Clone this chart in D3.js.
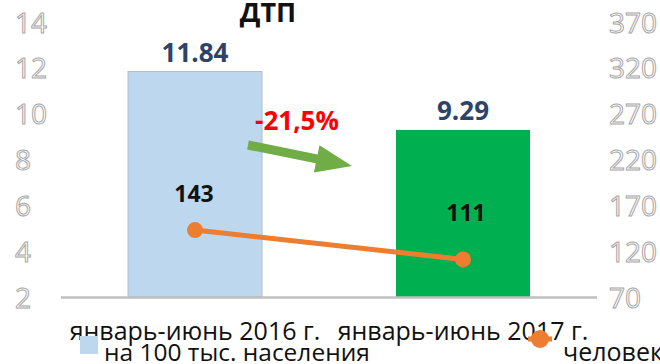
<!DOCTYPE html>
<html>
<head>
<meta charset="utf-8">
<script src="https://cdn.jsdelivr.net/npm/d3@7"></script>
<style>
  html, body { margin: 0; padding: 0; background: #fff; }
  svg { display: block; font-family: "Open Sans", "Noto Sans", sans-serif; }
</style>
</head>
<body>
<svg id="chart" width="660" height="364"></svg>
<script>
// Road accidents (ДТП), January–June, two years
const categories = ["январь-июнь 2016 г.", "январь-июнь 2017 г."];
const per100k = [11.84, 9.29];          // bars, left axis
const people = [143, 111];              // line, right axis
const barColors = ["#BDD7EE", "#00B050"];
const leftTicks = [2, 4, 6, 8, 10, 12, 14];
const rightTicks = [70, 120, 170, 220, 270, 320, 370];
const seriesNames = ["на 100 тыс. населения", "человек"];
const title = "ДТП";
const changeLabel = "-21,5%";

const svg = d3.select("#chart");
const plot = { left: 61, right: 597, top: 22, bottom: 297 };

const x = d3.scaleBand()
  .domain(categories)
  .range([plot.left, plot.right])
  .paddingInner(0.5)
  .paddingOuter(0.25);

const yL = d3.scaleLinear().domain([2, 14]).range([plot.bottom, plot.top]);
const yR = d3.scaleLinear().domain([70, 370]).range([plot.bottom, plot.top]);

// Axis tick labels (outlined digits, no axis lines)
const axisText = g => g.selectAll("text")
  .attr("fill", "#fff")
  .attr("stroke", "#A6A6A6")
  .attr("stroke-width", 1)
  .attr("font-size", 28)
  .attr("font-family", "'Open Sans', sans-serif");

const leftAxis = svg.append("g")
  .attr("transform", "translate(15,0)")
  .call(d3.axisLeft(yL).tickValues(leftTicks).tickSize(0).tickPadding(0));
leftAxis.select(".domain").remove();
leftAxis.selectAll("text").attr("text-anchor", "start").attr("dy", "0.36em");
leftAxis.call(axisText);

const rightAxis = svg.append("g")
  .attr("transform", "translate(609,0)")
  .call(d3.axisRight(yR).tickValues(rightTicks).tickSize(0).tickPadding(0));
rightAxis.select(".domain").remove();
rightAxis.selectAll("text").attr("dy", "0.36em");
rightAxis.call(axisText);

// Bars
svg.append("g").selectAll("rect")
  .data(categories)
  .join("rect")
  .attr("x", d => x(d))
  .attr("y", (d, i) => yL(per100k[i]))
  .attr("width", x.bandwidth())
  .attr("height", (d, i) => yL(2) - yL(per100k[i]))
  .attr("fill", (d, i) => barColors[i])
  .attr("stroke", (d, i) => i === 0 ? "#B4BCC6" : "none")
  .attr("stroke-width", 1);

// Category baseline
svg.append("line")
  .attr("x1", plot.left).attr("x2", plot.right)
  .attr("y1", plot.bottom + 0.5).attr("y2", plot.bottom + 0.5)
  .attr("stroke", "#BFBFBF").attr("stroke-width", 2.5);

// Bar value labels
svg.append("g").selectAll("text")
  .data(categories)
  .join("text")
  .attr("x", d => x(d) + x.bandwidth() / 2)
  .attr("y", (d, i) => yL(per100k[i]) - 10)
  .attr("text-anchor", "middle")
  .attr("font-size", 26)
  .attr("font-weight", "bold")
  .attr("fill", "#2B4468")
  .text((d, i) => per100k[i].toFixed(2));

// Line series
const cx = d => x(d) + x.bandwidth() / 2;
const line = d3.line().x(d => cx(d.c)).y(d => yR(d.v));
const pts = categories.map((c, i) => ({ c, v: people[i] }));
svg.append("path")
  .datum(pts)
  .attr("d", line)
  .attr("fill", "none")
  .attr("stroke", "#ED7D31")
  .attr("stroke-width", 5)
  .attr("stroke-linecap", "round");
svg.append("g").selectAll("circle")
  .data(pts)
  .join("circle")
  .attr("cx", d => cx(d.c))
  .attr("cy", d => yR(d.v))
  .attr("r", 8)
  .attr("fill", "#ED7D31");

// Line value labels
svg.append("g").selectAll("text")
  .data(pts)
  .join("text")
  .attr("x", (d, i) => cx(d.c) + (i === 0 ? -1 : 3))
  .attr("y", (d, i) => yR(d.v) - (i === 0 ? 28 : 38))
  .attr("text-anchor", "middle")
  .attr("font-size", 23)
  .attr("font-weight", "bold")
  .attr("fill", "#111")
  .text(d => d.v);

// Change annotation: arrow and percentage
const arrow = svg.append("g").attr("fill", "#70AD47");
const a0 = [248, 145], a1 = [352, 166];
const ang = Math.atan2(a1[1] - a0[1], a1[0] - a0[0]);
const len = Math.hypot(a1[0] - a0[0], a1[1] - a0[1]);
const headLen = 36, shaft = 4.5, head = 14;
arrow.append("path")
  .attr("transform", `translate(${a0[0]},${a0[1]}) rotate(${ang * 180 / Math.PI})`)
  .attr("d", `M0,${-shaft} L${len - headLen},${-shaft} L${len - headLen},${-head} L${len},0 L${len - headLen},${head} L${len - headLen},${shaft} L0,${shaft} Z`);

svg.append("text")
  .attr("x", 297).attr("y", 130)
  .attr("text-anchor", "middle")
  .attr("font-size", 26)
  .attr("font-weight", "bold")
  .attr("fill", "#FF0000")
  .text(changeLabel);

// Title
svg.append("text")
  .attr("x", 268).attr("y", 22)
  .attr("text-anchor", "middle")
  .attr("font-size", 27)
  .attr("font-weight", "bold")
  .attr("fill", "#111")
  .text(title);

// Category labels
svg.append("g").selectAll("text")
  .data(categories)
  .join("text")
  .attr("x", d => x(d) + x.bandwidth() / 2)
  .attr("y", 340)
  .attr("text-anchor", "middle")
  .attr("font-size", 25)
  .attr("fill", "#111")
  .text(d => d);

// Legend
const legend = svg.append("g");
legend.append("rect")
  .attr("x", 80).attr("y", 336).attr("width", 18).attr("height", 18)
  .attr("fill", barColors[0]);
legend.append("text")
  .attr("x", 104).attr("y", 361)
  .attr("font-size", 24.5).attr("fill", "#111")
  .text(seriesNames[0]);
legend.append("line")
  .attr("x1", 528).attr("x2", 552).attr("y1", 339).attr("y2", 339)
  .attr("stroke", "#ED7D31").attr("stroke-width", 5);
legend.append("circle")
  .attr("cx", 540).attr("cy", 339).attr("r", 9)
  .attr("fill", "#ED7D31");
legend.append("text")
  .attr("x", 563).attr("y", 361)
  .attr("font-size", 25).attr("fill", "#111")
  .text(seriesNames[1]);
</script>
</body>
</html>
